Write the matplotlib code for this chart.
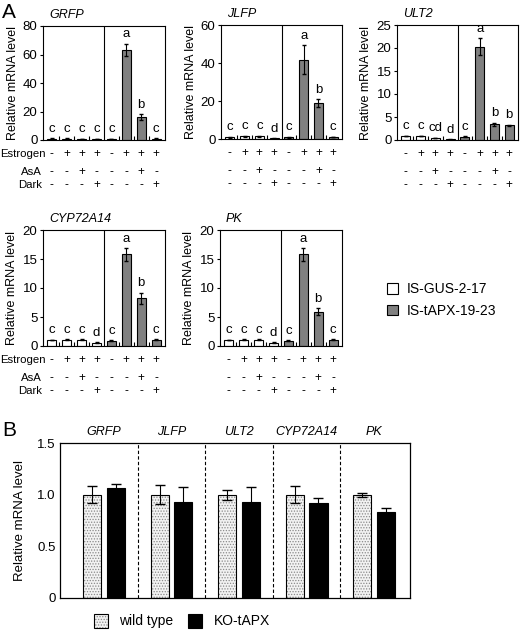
import numpy as np
import matplotlib.pyplot as plt
from matplotlib.patches import Patch

plt.rcParams['font.family'] = ['Liberation Sans', 'DejaVu Sans']
plt.rcParams['font.size'] = 9
plt.rcParams['hatch.linewidth'] = 0.6

W, H = 520, 632

# ---- panel A data ----
estrogen = ['-', '+', '+', '+', '-', '+', '+', '+']
asa = ['-', '-', '+', '-', '-', '-', '+', '-']
dark = ['-', '-', '-', '+', '-', '-', '-', '+']

grfp_gus = [0.9, 0.9, 0.8, 0.8]
grfp_gus_err = [0.2, 0.2, 0.2, 0.2]
grfp_apx = [0.8, 63.2, 16.2, 1.0]
grfp_apx_err = [0.2, 4.5, 2.0, 0.3]
grfp_letters = ['c', 'c', 'c', 'c', 'c', 'a', 'b', 'c']

jlfp_gus = [0.9, 1.5, 1.4, 0.3]
jlfp_gus_err = [0.2, 0.3, 0.3, 0.1]
jlfp_apx = [0.9, 41.8, 18.9, 1.0]
jlfp_apx_err = [0.2, 7.5, 2.0, 0.2]
jlfp_letters = ['c', 'c', 'c', 'd', 'c', 'a', 'b', 'c']

ult2_gus = [0.9, 0.9, 0.4, 0.15]
ult2_gus_err = [0.05, 0.05, 0.05, 0.05]
ult2_apx = [0.7, 20.3, 3.4, 3.2]
ult2_apx_err = [0.1, 1.8, 0.4, 0.15]
ult2_letters = ['c', 'c', 'cd', 'd', 'c', 'a', 'b', 'b']

cyp_gus = [1.0, 1.1, 1.1, 0.6]
cyp_gus_err = [0.05, 0.05, 0.05, 0.05]
cyp_apx = [0.9, 15.8, 8.2, 1.1]
cyp_apx_err = [0.1, 1.1, 1.0, 0.1]
cyp_letters = ['c', 'c', 'c', 'd', 'c', 'a', 'b', 'c']

pk_gus = [1.0, 1.1, 1.1, 0.6]
pk_gus_err = [0.05, 0.05, 0.05, 0.05]
pk_apx = [0.9, 15.8, 5.9, 1.1]
pk_apx_err = [0.1, 1.1, 0.6, 0.1]
pk_letters = ['c', 'c', 'c', 'd', 'c', 'a', 'b', 'c']

# ---- panel B data ----
genes_b = ['GRFP', 'JLFP', 'ULT2', 'CYP72A14', 'PK']
wt = [1.0, 1.0, 1.0, 1.0, 1.0]
wt_err = [0.08, 0.09, 0.05, 0.08, 0.02]
ko = [1.06, 0.93, 0.93, 0.92, 0.83]
ko_err = [0.04, 0.14, 0.14, 0.05, 0.045]


def px_axes(fig, l, t, r, b):
    return fig.add_axes([l / W, 1 - b / H, (r - l) / W, (b - t) / H])


def panel_a(fig, box, gene, gus, gus_err, apx, apx_err, letters, ymax, step, labels=False):
    ax = px_axes(fig, *box)
    x_gus = np.arange(4)
    x_apx = np.arange(4, 8)
    ax.bar(x_gus, gus, 0.6, color='white', edgecolor='black', lw=0.8)
    ax.bar(x_apx, apx, 0.6, color='#808080', edgecolor='black', lw=0.8)
    ax.errorbar(x_gus, gus, yerr=gus_err, fmt='none', ecolor='black', elinewidth=0.8, capsize=1.5)
    ax.errorbar(x_apx, apx, yerr=apx_err, fmt='none', ecolor='black', elinewidth=0.8, capsize=1.5)
    tops = list(np.add(gus, gus_err)) + list(np.add(apx, apx_err))
    for i, (t, s) in enumerate(zip(tops, letters)):
        ax.annotate(s, (i, t), xytext=(0, 2.5), textcoords='offset points',
                    ha='center', va='bottom', fontsize=9.5)
    ax.axvline(3.5, color='black', lw=0.8)
    ax.set_xlim(-0.6, 7.6)
    ax.set_ylim(0, ymax)
    ax.set_yticks(np.arange(0, ymax + 0.1, step))
    ax.set_xticks([0.5, 1.5, 2.5, 4.5, 5.5, 6.5])
    ax.set_xticklabels([])
    ax.tick_params(axis='x', direction='in', length=3, width=0.8)
    ax.tick_params(axis='y', direction='out', length=2, width=0.8, pad=2, labelsize=9.5)
    for sp in ax.spines.values():
        sp.set_linewidth(0.8)
    ax.set_ylabel('Relative mRNA level', fontsize=9, labelpad=3)
    ax.text(0.05, 1.04, gene, transform=ax.transAxes, fontstyle='italic',
            fontsize=9, ha='left', va='bottom')
    trans = ax.get_xaxis_transform()
    for row, dy in [(estrogen, 14), (asa, 32), (dark, 45)]:
        for i, s in enumerate(row):
            ax.annotate(s, (i, 0), xycoords=trans, xytext=(0, -dy * 0.72),
                        textcoords='offset points', ha='center', va='center', fontsize=8.5)
    if labels:
        l, t, r, b = box
        for name, dy, xr in [('Estrogen', 14, 46), ('AsA', 32, 42), ('Dark', 45, 42)]:
            fig.text(xr / W, 1 - (b + dy) / H, name, ha='right', va='center', fontsize=8.2)
    return ax


fig = plt.figure(figsize=(W / 100, H / 100), dpi=100)

panel_a(fig, (43, 26, 165, 140), 'GRFP', grfp_gus, grfp_gus_err, grfp_apx, grfp_apx_err,
        grfp_letters, 80, 20, labels=True)
panel_a(fig, (221, 25, 342, 139), 'JLFP', jlfp_gus, jlfp_gus_err, jlfp_apx, jlfp_apx_err,
        jlfp_letters, 60, 20)
panel_a(fig, (397, 25, 518, 140), 'ULT2', ult2_gus, ult2_gus_err, ult2_apx, ult2_apx_err,
        ult2_letters, 25, 5)
panel_a(fig, (43, 230, 165, 346), 'CYP72A14', cyp_gus, cyp_gus_err, cyp_apx, cyp_apx_err,
        cyp_letters, 20, 5, labels=True)
panel_a(fig, (220, 230, 342, 346), 'PK', pk_gus, pk_gus_err, pk_apx, pk_apx_err,
        pk_letters, 20, 5)

fig.legend(handles=[Patch(fc='white', ec='black', lw=0.8, label='IS-GUS-2-17'),
                    Patch(fc='#808080', ec='black', lw=0.8, label='IS-tAPX-19-23')],
           loc='center left', bbox_to_anchor=(387 / W, 1 - 300 / H), frameon=False,
           handlelength=0.8, handleheight=0.8, handletextpad=0.6, labelspacing=0.55,
           fontsize=10, borderaxespad=0, borderpad=0)

fig.text(2 / W, 1 - 12 / H, 'A', fontsize=15, ha='left', va='center')
fig.text(2 / W, 1 - 430 / H, 'B', fontsize=15, ha='left', va='center')

# ---- panel B ----
axb = px_axes(fig, 60, 443, 410, 598)
xb = np.arange(len(genes_b))
w = 0.27
h1 = axb.bar(xb - 0.175, wt, w, color='#f2f2f2', edgecolor='#8a8a8a', hatch='......', lw=0)
h2 = axb.bar(xb - 0.175, wt, w, fill=False, edgecolor='black', lw=0.8)
h3 = axb.bar(xb + 0.175, ko, w, color='black', edgecolor='black', lw=0.8)
axb.errorbar(xb - 0.175, wt, yerr=wt_err, fmt='none', ecolor='black', elinewidth=0.8, capsize=3.6)
axb.errorbar(xb + 0.175, ko, yerr=ko_err, fmt='none', ecolor='black', elinewidth=0.8, capsize=3.6)
for xd in xb[:-1] + 0.5:
    axb.axvline(xd, color='black', lw=0.8, ls=(0, (3, 2)))
for i, g in enumerate(genes_b):
    axb.annotate(g, (i, 1), xycoords=axb.get_xaxis_transform(), xytext=(0, 11 * 0.72),
                 textcoords='offset points', ha='center', va='center',
                 fontstyle='italic', fontsize=9)
axb.set_xlim(-0.65, 4.53)
axb.set_ylim(0, 1.5)
axb.set_yticks([0, 0.5, 1.0, 1.5])
axb.set_yticklabels(['0', '0.5', '1.0', '1.5'])
axb.set_xticks([])
axb.tick_params(axis='y', length=0, pad=3, labelsize=9.5)
for sp in axb.spines.values():
    sp.set_linewidth(0.9)
axb.set_ylabel('Relative mRNA level', fontsize=9.5, labelpad=8)

fig.legend(handles=[(h1, h2), h3], labels=['wild type', 'KO-tAPX'], ncol=2,
           loc='center left', bbox_to_anchor=(94 / W, 1 - 621 / H), frameon=False,
           handlelength=1.0, handleheight=1.2, handletextpad=0.8, columnspacing=1.1,
           fontsize=10, borderaxespad=0, borderpad=0)

fig.savefig('out.png', dpi=100)
